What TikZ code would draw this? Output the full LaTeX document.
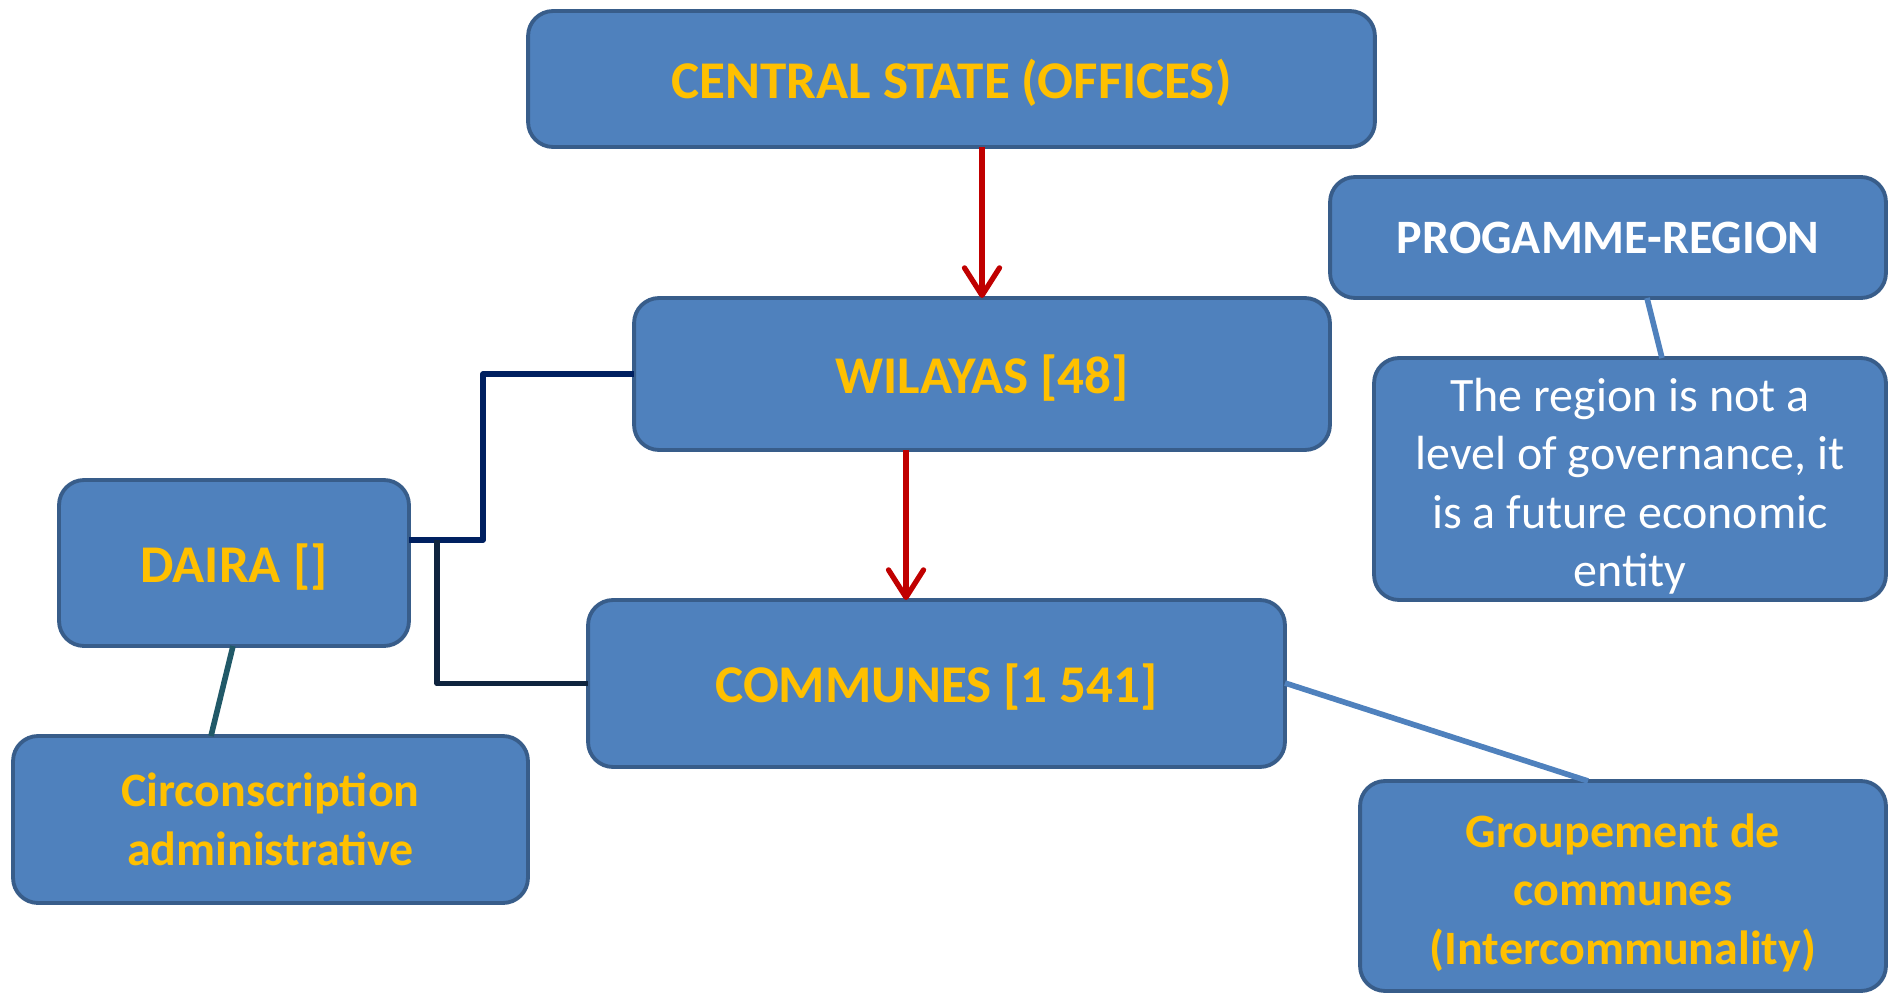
\documentclass[tikz,border=0pt]{standalone}
\usepackage{fontspec}
\setmainfont{Carlito}
\usetikzlibrary{arrows.meta}
\definecolor{boxfill}{HTML}{4F81BD}
\definecolor{boxline}{HTML}{385D8A}
\definecolor{gold}{HTML}{FFC000}
\definecolor{darkred}{HTML}{C00000}
\definecolor{navy}{HTML}{002060}
\definecolor{nightblue}{HTML}{0F243E}
\definecolor{teal}{HTML}{215968}
% a taller first line pushes a block of text a little down
\newcommand{\topgap}{\rule{0pt}{27pt}}
\begin{document}
\begin{tikzpicture}[x=0.02cm, y=-0.02cm,
  box/.style={draw=boxline, fill=boxfill, line width=2.2pt, rounded corners=0.5cm,
    outer sep=0pt, inner sep=0pt, align=center,
    font=\fontsize{27.3}{33.3}\selectfont},
  goldtext/.style={text=gold, font=\fontsize{27.3}{33.3}\selectfont\bfseries},
  titletext/.style={text=gold, text depth=0pt, font=\fontsize{30.2}{36}\selectfont\bfseries},
  whitetext/.style={text=white},
  down/.style={darkred, line width=3pt, -{Straight Barb[round, length=0.55cm, width=0.7cm]}},
  link/.style={line width=3.2pt}]
\useasboundingbox (0,0) rectangle (1890,993);

\node[box, titletext, minimum width=16.94cm, minimum height=2.72cm] (cs) at (951.5,79) {CENTRAL STATE (OFFICES)};
\node[box, whitetext, font=\fontsize{27.3}{33.3}\selectfont\bfseries, minimum width=11.12cm, minimum height=2.42cm] (prog) at (1608,237.5) {PROGAMME-REGION};
\node[box, titletext, minimum width=13.92cm, minimum height=3.04cm] (wil) at (982,374) {WILAYAS [48]};
\node[box, whitetext, minimum width=10.24cm, minimum height=4.84cm] (reg) at (1630,479) {\topgap The region is not a\\level of governance, it\\is a future economic\\entity};
\node[box, titletext, minimum width=7cm, minimum height=3.32cm] (daira) at (234,563) {DAIRA []};
\node[box, titletext, minimum width=13.94cm, minimum height=3.34cm] (com) at (936.5,683.5) {COMMUNES [1 541]};
\node[box, goldtext, minimum width=10.3cm, minimum height=3.34cm] (circ) at (270.5,819.5) {Circonscription\\administrative};
\node[box, goldtext, minimum width=10.52cm, minimum height=4.2cm] (grp) at (1623,886) {\topgap Groupement de\\communes\\(Intercommunality)};

% arrows down the hierarchy
\draw[down] (cs.south -| wil.north) -- (wil.north);
\draw[down] ([xshift=-1.52cm]wil.south) -- ([xshift=-1.52cm]wil.south |- com.north);

% links to the daira
\coordinate (dj) at (409,540);
\coordinate (wj) at (483,374);
\coordinate (cj) at (437,540);
\draw[link, navy, line join=round] (wil.west) -- (wj) |- (dj);
\draw[link, nightblue, line join=round] (cj) |- (com.west);
\draw[link, teal] (233,646) -- (211,736);

% links on the right
\draw[link, boxfill] (1285,683) -- (1588,781);
\draw[link, boxfill] (1647,298) -- (1662,358);
\end{tikzpicture}
\end{document}
